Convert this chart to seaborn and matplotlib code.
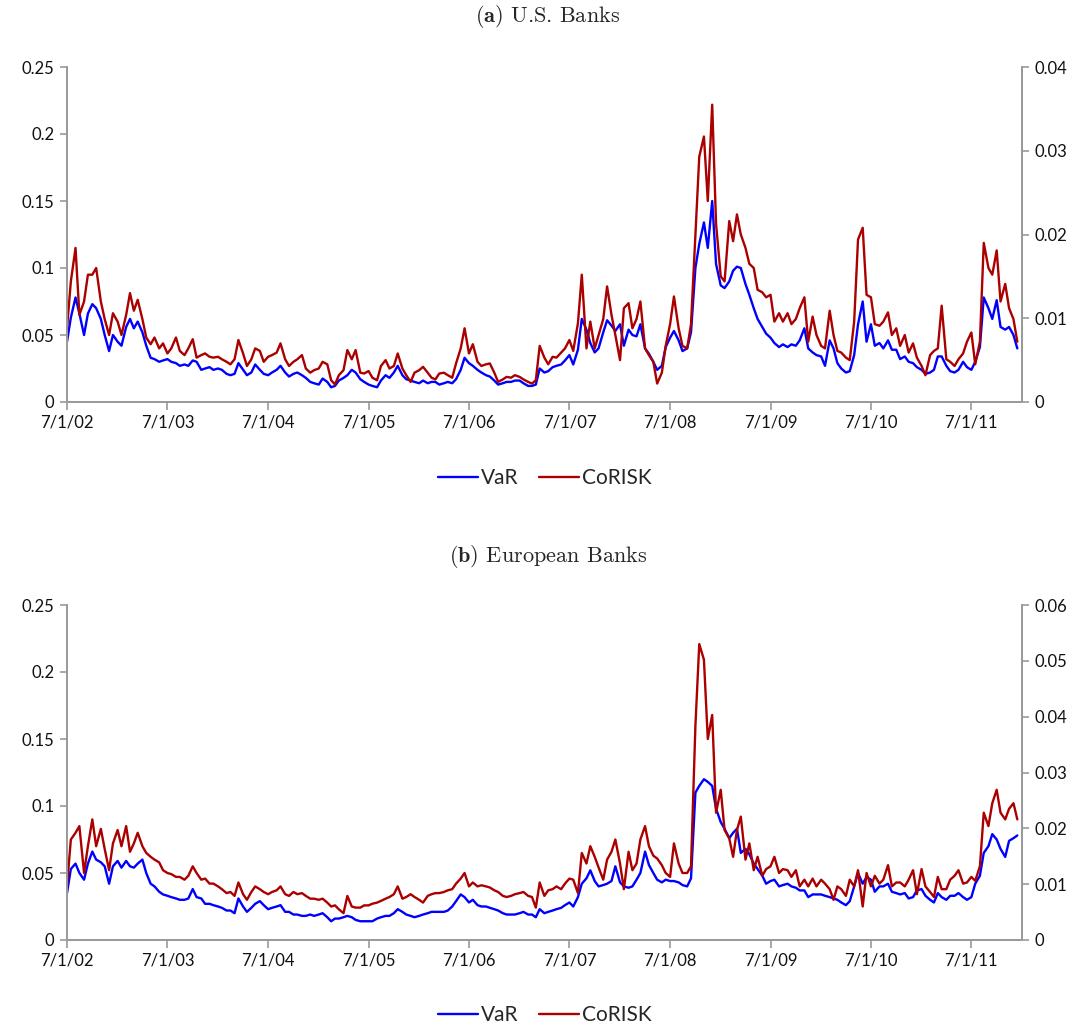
import numpy as np
import pandas as pd
import matplotlib
matplotlib.use("Agg")
import matplotlib.pyplot as plt
import seaborn as sns

# ---------------- data (semi-monthly readings, 1st and 15th of each month, Jul 2002 - Dec 2011)
start_date = "2002-07-01"
xtick_dates = ["2002-07-01", "2003-07-01", "2004-07-01", "2005-07-01", "2006-07-01",
               "2007-07-01", "2008-07-01", "2009-07-01", "2010-07-01", "2011-07-01"]
xtick_labels = ["7/1/02", "7/1/03", "7/1/04", "7/1/05", "7/1/06",
                "7/1/07", "7/1/08", "7/1/09", "7/1/10", "7/1/11"]

var_us = [
    0.045, 0.063, 0.078, 0.066, 0.050, 0.066, 0.073, 0.070, 0.062, 0.050, 0.038, 0.050,
    0.045, 0.042, 0.056, 0.062, 0.055, 0.060, 0.052, 0.042, 0.033, 0.032, 0.030, 0.031,
    0.032, 0.030, 0.029, 0.027, 0.028, 0.027, 0.031, 0.030, 0.024, 0.025, 0.026, 0.024,
    0.025, 0.024, 0.021, 0.020, 0.021, 0.029, 0.024, 0.020, 0.022, 0.028, 0.024, 0.021,
    0.020, 0.022, 0.024, 0.027, 0.022, 0.019, 0.021, 0.022, 0.020, 0.018, 0.015, 0.014,
    0.013, 0.0175, 0.015, 0.011, 0.012, 0.016, 0.018, 0.020, 0.024, 0.022, 0.017, 0.015,
    0.013, 0.012, 0.011, 0.016, 0.020, 0.018, 0.022, 0.027, 0.020, 0.017, 0.016, 0.015,
    0.014, 0.016, 0.014, 0.015, 0.015, 0.013, 0.014, 0.015, 0.014, 0.017, 0.024, 0.033,
    0.029, 0.027, 0.024, 0.022, 0.020, 0.019, 0.016, 0.013, 0.014, 0.015, 0.015, 0.016,
    0.016, 0.014, 0.012, 0.012, 0.013, 0.025, 0.022, 0.023, 0.026, 0.027, 0.028, 0.031,
    0.035, 0.028, 0.039, 0.062, 0.054, 0.044, 0.037, 0.040, 0.052, 0.061, 0.057, 0.053,
    0.058, 0.042, 0.054, 0.050, 0.049, 0.058, 0.040, 0.036, 0.030, 0.024, 0.027, 0.041,
    0.048, 0.053, 0.046, 0.038, 0.040, 0.052, 0.100, 0.118, 0.134, 0.115, 0.150, 0.103,
    0.087, 0.085, 0.090, 0.098, 0.101, 0.100, 0.088, 0.080, 0.070, 0.062, 0.056, 0.051,
    0.048, 0.044, 0.041, 0.043, 0.041, 0.043, 0.042, 0.046, 0.055, 0.040, 0.037, 0.035,
    0.034, 0.027, 0.046, 0.040, 0.029, 0.025, 0.022, 0.023, 0.035, 0.058, 0.075, 0.045,
    0.058, 0.042, 0.044, 0.040, 0.046, 0.039, 0.039, 0.032, 0.034, 0.030, 0.029, 0.026,
    0.024, 0.021, 0.022, 0.024, 0.034, 0.034, 0.027, 0.023, 0.022, 0.024, 0.030, 0.026,
    0.024, 0.030, 0.041, 0.078, 0.070, 0.062, 0.076, 0.056, 0.054, 0.056, 0.050, 0.040,
]

corisk_us = [
    0.0088, 0.0144, 0.0184, 0.0104, 0.0120, 0.0152, 0.0152, 0.0160, 0.0120, 0.0099, 0.0080, 0.0106,
    0.0096, 0.0080, 0.0104, 0.0130, 0.0109, 0.0122, 0.0099, 0.0077, 0.0069, 0.0077, 0.0064, 0.0070,
    0.0058, 0.0064, 0.0077, 0.0061, 0.0056, 0.0064, 0.0075, 0.0053, 0.0056, 0.0058, 0.0054, 0.0053,
    0.0054, 0.0051, 0.0048, 0.0045, 0.0051, 0.0074, 0.0058, 0.0043, 0.0051, 0.0064, 0.0061, 0.0048,
    0.0054, 0.0056, 0.0059, 0.0070, 0.0051, 0.0043, 0.0048, 0.0051, 0.0056, 0.0040, 0.0035, 0.0038,
    0.0040, 0.0048, 0.0045, 0.0026, 0.0021, 0.0032, 0.0038, 0.0062, 0.0051, 0.0062, 0.0035, 0.0034,
    0.0037, 0.0029, 0.0026, 0.0043, 0.0050, 0.0040, 0.0043, 0.0058, 0.0040, 0.0032, 0.0024, 0.0035,
    0.0038, 0.0042, 0.0035, 0.0029, 0.0027, 0.0034, 0.0035, 0.0032, 0.0029, 0.0046, 0.0064, 0.0088,
    0.0058, 0.0069, 0.0048, 0.0043, 0.0045, 0.0046, 0.0035, 0.0024, 0.0027, 0.0030, 0.0029, 0.0032,
    0.0030, 0.0027, 0.0024, 0.0022, 0.0026, 0.0067, 0.0053, 0.0045, 0.0054, 0.0053, 0.0059, 0.0064,
    0.0074, 0.0061, 0.0094, 0.0152, 0.0064, 0.0096, 0.0064, 0.0080, 0.0099, 0.0138, 0.0104, 0.0080,
    0.0050, 0.0112, 0.0118, 0.0088, 0.0099, 0.0120, 0.0064, 0.0056, 0.0048, 0.0022, 0.0035, 0.0067,
    0.0093, 0.0126, 0.0088, 0.0067, 0.0064, 0.0093, 0.0200, 0.0293, 0.0317, 0.0240, 0.0355, 0.0213,
    0.0150, 0.0144, 0.0216, 0.0192, 0.0224, 0.0200, 0.0184, 0.0165, 0.0160, 0.0134, 0.0131, 0.0125,
    0.0128, 0.0096, 0.0106, 0.0096, 0.0106, 0.0093, 0.0099, 0.0112, 0.0125, 0.0072, 0.0102, 0.0080,
    0.0067, 0.0064, 0.0109, 0.0080, 0.0061, 0.0059, 0.0053, 0.0050, 0.0096, 0.0194, 0.0208, 0.0128,
    0.0125, 0.0093, 0.0091, 0.0096, 0.0107, 0.0080, 0.0088, 0.0067, 0.0080, 0.0059, 0.0070, 0.0053,
    0.0043, 0.0032, 0.0056, 0.0061, 0.0064, 0.0115, 0.0051, 0.0048, 0.0043, 0.0051, 0.0058, 0.0072,
    0.0083, 0.0045, 0.0072, 0.0190, 0.0160, 0.0152, 0.0181, 0.0120, 0.0141, 0.0112, 0.0099, 0.0072,
]

var_eu = [
    0.035, 0.053, 0.057, 0.050, 0.045, 0.057, 0.066, 0.060, 0.058, 0.055, 0.042, 0.055,
    0.059, 0.054, 0.059, 0.055, 0.054, 0.057, 0.060, 0.050, 0.042, 0.040, 0.036, 0.034,
    0.033, 0.032, 0.031, 0.030, 0.030, 0.031, 0.038, 0.032, 0.031, 0.027, 0.027, 0.026,
    0.025, 0.024, 0.022, 0.022, 0.020, 0.031, 0.025, 0.021, 0.024, 0.027, 0.029, 0.026,
    0.023, 0.024, 0.025, 0.026, 0.021, 0.021, 0.019, 0.019, 0.018, 0.018, 0.019, 0.018,
    0.019, 0.020, 0.017, 0.014, 0.016, 0.016, 0.017, 0.018, 0.017, 0.015, 0.014, 0.014,
    0.014, 0.014, 0.016, 0.017, 0.018, 0.018, 0.020, 0.023, 0.021, 0.019, 0.018, 0.017,
    0.018, 0.019, 0.020, 0.021, 0.021, 0.021, 0.021, 0.022, 0.025, 0.029, 0.034, 0.032,
    0.028, 0.030, 0.026, 0.025, 0.025, 0.024, 0.023, 0.022, 0.020, 0.019, 0.019, 0.019,
    0.020, 0.021, 0.019, 0.019, 0.017, 0.023, 0.020, 0.021, 0.022, 0.023, 0.024, 0.026,
    0.028, 0.025, 0.032, 0.042, 0.046, 0.052, 0.044, 0.040, 0.041, 0.042, 0.044, 0.055,
    0.043, 0.040, 0.039, 0.040, 0.045, 0.050, 0.066, 0.056, 0.050, 0.045, 0.043, 0.045,
    0.044, 0.044, 0.043, 0.041, 0.040, 0.046, 0.110, 0.115, 0.120, 0.118, 0.115, 0.098,
    0.088, 0.083, 0.076, 0.080, 0.083, 0.065, 0.068, 0.064, 0.057, 0.053, 0.048, 0.042,
    0.044, 0.045, 0.040, 0.041, 0.042, 0.040, 0.039, 0.037, 0.037, 0.032, 0.034, 0.034,
    0.034, 0.033, 0.032, 0.031, 0.030, 0.028, 0.026, 0.029, 0.040, 0.050, 0.042, 0.047,
    0.045, 0.036, 0.040, 0.040, 0.042, 0.036, 0.035, 0.034, 0.035, 0.031, 0.032, 0.037,
    0.038, 0.033, 0.030, 0.028, 0.035, 0.032, 0.030, 0.033, 0.033, 0.035, 0.032, 0.030,
    0.032, 0.042, 0.048, 0.065, 0.070, 0.079, 0.075, 0.068, 0.062, 0.074, 0.076, 0.078,
]

corisk_eu = [
    0.0096, 0.0180, 0.0192, 0.0204, 0.0120, 0.0168, 0.0216, 0.0168, 0.0199, 0.0163, 0.0125, 0.0173,
    0.0197, 0.0168, 0.0204, 0.0158, 0.0173, 0.0192, 0.0168, 0.0156, 0.0149, 0.0144, 0.0139, 0.0125,
    0.0120, 0.0118, 0.0113, 0.0113, 0.0108, 0.0115, 0.0132, 0.0120, 0.0108, 0.0110, 0.0101, 0.0101,
    0.0096, 0.0091, 0.0084, 0.0086, 0.0079, 0.0103, 0.0082, 0.0072, 0.0086, 0.0096, 0.0091, 0.0086,
    0.0082, 0.0086, 0.0089, 0.0096, 0.0082, 0.0079, 0.0086, 0.0082, 0.0084, 0.0079, 0.0074, 0.0074,
    0.0072, 0.0074, 0.0067, 0.0060, 0.0062, 0.0055, 0.0048, 0.0079, 0.0060, 0.0058, 0.0058, 0.0062,
    0.0062, 0.0065, 0.0067, 0.0070, 0.0074, 0.0077, 0.0082, 0.0096, 0.0074, 0.0077, 0.0082, 0.0077,
    0.0072, 0.0067, 0.0079, 0.0082, 0.0084, 0.0084, 0.0086, 0.0089, 0.0091, 0.0101, 0.0110, 0.0120,
    0.0096, 0.0103, 0.0096, 0.0098, 0.0096, 0.0094, 0.0089, 0.0086, 0.0079, 0.0077, 0.0079, 0.0082,
    0.0084, 0.0086, 0.0079, 0.0077, 0.0058, 0.0103, 0.0079, 0.0089, 0.0091, 0.0096, 0.0091, 0.0101,
    0.0110, 0.0108, 0.0084, 0.0156, 0.0137, 0.0168, 0.0149, 0.0130, 0.0108, 0.0144, 0.0158, 0.0180,
    0.0137, 0.0091, 0.0158, 0.0125, 0.0137, 0.0180, 0.0204, 0.0168, 0.0151, 0.0146, 0.0134, 0.0120,
    0.0113, 0.0173, 0.0137, 0.0120, 0.0120, 0.0132, 0.0384, 0.0530, 0.0502, 0.0360, 0.0403, 0.0228,
    0.0269, 0.0197, 0.0182, 0.0149, 0.0197, 0.0221, 0.0144, 0.0173, 0.0125, 0.0149, 0.0115, 0.0127,
    0.0132, 0.0149, 0.0120, 0.0127, 0.0125, 0.0113, 0.0125, 0.0096, 0.0108, 0.0096, 0.0110, 0.0096,
    0.0108, 0.0101, 0.0091, 0.0072, 0.0096, 0.0091, 0.0079, 0.0108, 0.0096, 0.0125, 0.0060, 0.0120,
    0.0096, 0.0115, 0.0101, 0.0108, 0.0134, 0.0096, 0.0103, 0.0103, 0.0096, 0.0108, 0.0125, 0.0082,
    0.0127, 0.0096, 0.0086, 0.0077, 0.0113, 0.0091, 0.0091, 0.0108, 0.0115, 0.0125, 0.0101, 0.0103,
    0.0113, 0.0106, 0.0132, 0.0228, 0.0204, 0.0245, 0.0269, 0.0228, 0.0216, 0.0235, 0.0245, 0.0216,
]

left_ticks = [0, 0.05, 0.1, 0.15, 0.2, 0.25]
left_labels = ["0", "0.05", "0.1", "0.15", "0.2", "0.25"]
right_ticks_us = [0, 0.01, 0.02, 0.03, 0.04]
right_labels_us = ["0", "0.01", "0.02", "0.03", "0.04"]
right_ticks_eu = [0, 0.01, 0.02, 0.03, 0.04, 0.05, 0.06]
right_labels_eu = ["0", "0.01", "0.02", "0.03", "0.04", "0.05", "0.06"]

# ---------------- style
sns.set_style("ticks")
plt.rcParams["font.family"] = ["Lato", "DejaVu Sans"]
plt.rcParams["mathtext.fontset"] = "cm"

BLUE = "#0000FF"
RED = "#AA0000"
SPINE = "#9A9A9A"

W, H = 1082, 1031
fig = plt.figure(figsize=(W / 100, H / 100), dpi=100)


def panel(top_px, var, cor, rticks, rlabels, tag, title, title_px, legend_px):
    n = len(var)
    assert len(cor) == n
    dates = pd.date_range(start_date, periods=n, freq="SMS")
    df = pd.DataFrame({"date": dates, "VaR": var, "CoRISK": cor})

    ax = fig.add_axes([67 / W, 1 - (top_px + 335) / H, 955 / W, 335 / H])
    ax2 = ax.twinx()
    sns.lineplot(data=df, x="date", y="VaR", ax=ax, color=BLUE, linewidth=1.7)
    sns.lineplot(data=df, x="date", y="CoRISK", ax=ax2, color=RED, linewidth=1.7)

    ax.set_xlim(pd.Timestamp("2002-07-01"), pd.Timestamp("2012-01-01"))
    ax.set_ylim(0, 0.25)
    ax2.set_ylim(0, rticks[-1])
    ax.set_yticks(left_ticks)
    ax.set_yticklabels(left_labels)
    ax2.set_yticks(rticks)
    ax2.set_yticklabels(rlabels)
    ax.set_xticks(pd.to_datetime(xtick_dates))
    ax.set_xticklabels(xtick_labels)
    for a in (ax, ax2):
        a.set_xlabel("")
        a.set_ylabel("")
        a.spines["top"].set_visible(False)
        for s in ("left", "right", "bottom"):
            a.spines[s].set_color(SPINE)
            a.spines[s].set_linewidth(1.3)
        a.tick_params(axis="both", which="major", direction="out", length=5,
                      width=1.2, color=SPINE, labelsize=12, labelcolor="#111111", pad=4)
    ax.tick_params(axis="x", length=6, pad=3)
    ax2.tick_params(axis="x", length=0)

    fig.text(548 / W, 1 - title_px / H, tag + " " + title, ha="center", va="center",
             fontsize=16, fontfamily="cmr10")
    handles = [ax.lines[0], ax2.lines[0]]
    fig.legend(handles, ["VaR", "CoRISK"], loc="center",
               bbox_to_anchor=(545 / W, 1 - legend_px / H), ncol=2, frameon=False,
               fontsize=15, handlelength=1.9, handletextpad=0.15, columnspacing=1.0)


panel(67, var_us, corisk_us, right_ticks_us, right_labels_us,
      r"$\mathbf{(a)}$", "U.S. Banks", 17, 478)
panel(605, var_eu, corisk_eu, right_ticks_eu, right_labels_eu,
      r"$\mathbf{(b)}$", "European Banks", 556, 1015)

fig.savefig("out.png", dpi=100)
